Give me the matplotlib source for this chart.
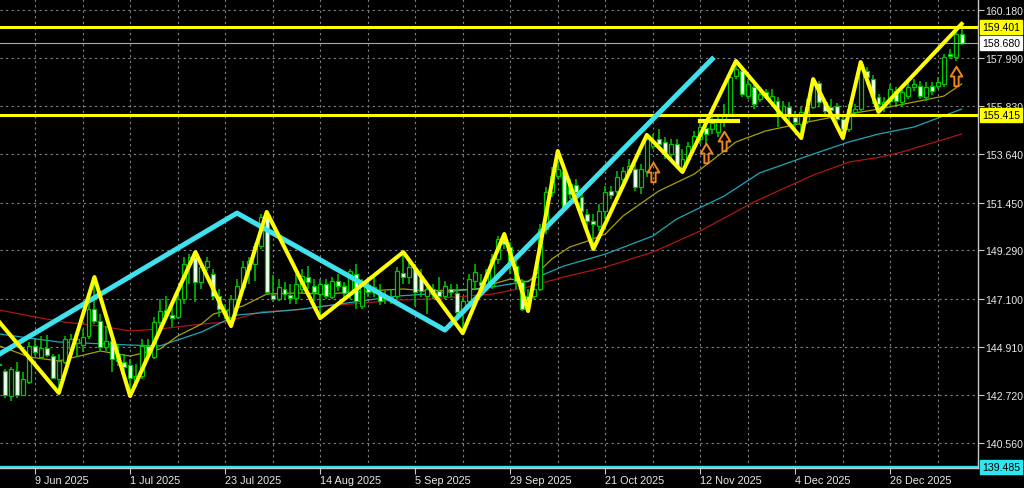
import matplotlib
matplotlib.use('Agg')
import matplotlib.pyplot as plt
import matplotlib.transforms as mtransforms
from matplotlib.path import Path
import numpy as np

## daily candles, bar 0 .. 162
opens = [144.14, 143.82, 142.69, 143.82, 142.74, 143.32, 144.96, 144.46, 144.87, 144.50,
         143.46, 144.23, 144.82, 145.09, 145.00, 145.41, 146.63, 146.09, 144.91, 145.18,
         144.59, 144.23, 144.09, 143.37, 143.60, 144.96, 144.46, 146.04, 146.59, 146.36,
         146.27, 147.08, 148.67, 148.99, 147.86, 148.53, 148.22, 147.22, 146.59, 146.27,
         147.08, 147.63, 148.44, 148.67, 149.49, 150.80, 147.27, 147.08, 147.54, 147.27,
         147.13, 147.54, 148.08, 147.67, 147.31, 147.76, 147.18, 147.90, 147.67, 147.31,
         148.22, 146.77, 147.72, 147.40, 147.36, 147.08, 147.18, 147.22, 148.26, 148.08,
         148.44, 148.13, 147.22, 147.54, 147.45, 147.22, 147.54, 147.36, 146.50, 146.99,
         147.90, 147.86, 147.67, 147.67, 148.90, 149.76, 149.44, 148.58, 147.86, 147.22,
         147.22, 147.54, 150.26, 151.93, 152.66, 152.88, 152.30, 152.25, 151.71, 150.94,
         150.62, 150.39, 151.07, 151.98, 151.98, 152.52, 152.84, 152.98, 152.16, 152.88,
         154.02, 154.33, 154.20, 153.65, 154.11, 153.02, 153.43, 154.02, 154.33, 154.83,
         154.79, 154.65, 155.10, 155.47, 157.19, 157.42, 156.28, 156.69, 156.15, 156.46,
         156.01, 156.06, 155.47, 155.79, 155.33, 155.01, 155.15, 155.79, 156.87, 156.01,
         155.79, 155.83, 155.24, 154.79, 155.56, 155.69, 157.42, 157.05, 156.24, 155.79,
         156.06, 156.51, 156.01, 156.28, 156.69, 156.74, 156.24, 156.74, 156.74, 156.83,
         158.19, 158.05, 159.09]
highs = [144.28, 143.91, 144.00, 144.23, 143.78, 145.14, 145.27, 145.41, 145.45, 144.59,
         144.59, 145.41, 145.50, 145.50, 145.73, 146.86, 148.08, 146.40, 145.86, 145.27,
         145.05, 144.59, 144.37, 144.14, 145.27, 145.27, 146.27, 147.08, 147.22, 146.99,
         147.31, 148.99, 149.12, 149.21, 148.81, 148.99, 148.44, 147.54, 146.86, 147.27,
         147.99, 148.81, 148.99, 149.62, 150.94, 151.03, 148.17, 147.99, 147.86, 147.76,
         148.22, 148.44, 148.58, 147.99, 147.99, 147.99, 148.08, 148.22, 147.86, 148.44,
         148.67, 147.99, 148.08, 148.22, 147.76, 147.45, 147.54, 148.53, 149.21, 148.90,
         148.67, 148.44, 147.86, 147.76, 148.08, 147.90, 147.76, 147.76, 147.18, 148.22,
         148.67, 148.22, 148.44, 149.12, 149.94, 150.03, 149.67, 148.81, 147.99, 147.54,
         147.86, 150.48, 152.16, 153.07, 153.29, 153.20, 152.52, 152.52, 151.93, 151.16,
         150.94, 151.39, 152.21, 152.21, 152.88, 153.07, 153.43, 153.20, 153.20, 154.52,
         154.56, 154.79, 154.43, 154.33, 154.33, 153.88, 154.20, 154.70, 155.24, 155.15,
         155.33, 155.47, 155.92, 157.42, 157.87, 157.60, 157.05, 156.83, 156.69, 156.60,
         156.60, 156.24, 156.06, 156.01, 155.60, 155.79, 156.15, 157.05, 156.96, 156.15,
         156.15, 155.97, 155.33, 155.92, 155.92, 157.82, 157.60, 157.23, 156.37, 156.24,
         156.83, 156.69, 156.69, 156.96, 157.05, 156.96, 156.92, 156.92, 157.14, 158.19,
         158.41, 159.41, 159.55]
lows = [144.00, 142.60, 142.46, 142.60, 142.69, 143.23, 144.50, 144.37, 144.46, 143.46,
        142.83, 144.14, 144.59, 144.46, 144.68, 145.27, 145.95, 144.73, 144.73, 143.78,
        144.05, 143.82, 142.69, 143.10, 143.46, 144.37, 144.37, 145.73, 146.18, 145.82,
        146.18, 146.86, 147.76, 146.95, 147.54, 148.35, 147.08, 146.27, 146.18, 145.86,
        146.63, 147.45, 147.76, 147.90, 149.35, 147.27, 146.95, 146.99, 147.08, 146.86,
        146.86, 147.31, 147.54, 146.99, 146.27, 147.08, 147.08, 147.45, 147.18, 147.08,
        146.63, 146.63, 147.18, 147.18, 146.81, 146.86, 146.86, 147.08, 147.76, 147.76,
        146.77, 147.18, 146.40, 147.08, 147.08, 147.08, 147.18, 146.27, 145.54, 146.86,
        147.54, 147.31, 147.45, 147.54, 148.67, 149.35, 148.22, 147.54, 146.54, 146.54,
        147.08, 147.45, 150.03, 151.71, 152.52, 151.07, 151.62, 151.75, 150.94, 150.03,
        149.35, 150.17, 150.71, 151.62, 151.84, 152.30, 152.70, 151.98, 151.84, 152.61,
        153.88, 153.88, 153.43, 153.43, 152.98, 152.84, 153.29, 153.88, 154.11, 154.11,
        154.56, 154.43, 154.88, 155.33, 157.05, 156.24, 156.15, 155.69, 156.01, 156.15,
        155.79, 154.88, 155.33, 155.15, 154.88, 154.38, 155.01, 155.69, 155.79, 155.33,
        155.47, 155.01, 154.38, 154.65, 155.33, 155.60, 156.83, 155.92, 155.56, 155.56,
        155.88, 155.88, 155.79, 156.15, 156.51, 156.15, 156.06, 156.33, 156.60, 156.69,
        157.96, 157.87, 158.59]
closes = [144.09, 142.74, 143.91, 142.74, 143.46, 144.96, 144.68, 144.87, 144.55, 143.51,
          144.28, 145.27, 145.27, 145.27, 145.36, 146.63, 146.09, 144.91, 145.18, 144.37,
          144.28, 144.00, 143.51, 143.60, 144.96, 144.59, 146.04, 146.54, 146.36, 146.22,
          147.08, 148.67, 148.99, 147.86, 148.53, 148.81, 147.22, 146.63, 146.40, 147.08,
          147.67, 148.53, 148.81, 149.49, 150.80, 147.40, 147.08, 147.63, 147.31, 147.13,
          147.76, 148.13, 147.86, 147.40, 147.76, 147.22, 147.90, 147.67, 147.36, 148.35,
          146.99, 147.76, 147.40, 147.63, 146.99, 147.22, 147.08, 148.35, 148.08, 148.53,
          147.40, 147.45, 147.54, 147.31, 147.22, 147.67, 147.40, 146.50, 146.99, 147.99,
          148.31, 147.72, 148.22, 148.90, 149.80, 149.58, 148.67, 147.90, 146.63, 146.99,
          147.54, 150.26, 151.93, 152.66, 152.98, 151.25, 151.84, 151.93, 151.07, 150.62,
          150.48, 151.07, 151.93, 151.80, 152.61, 152.88, 153.11, 152.16, 152.98, 154.33,
          154.24, 154.11, 153.70, 154.11, 153.11, 153.43, 154.02, 154.47, 154.88, 154.56,
          155.06, 155.24, 155.47, 157.14, 157.51, 156.37, 156.83, 155.92, 156.37, 156.28,
          156.28, 155.47, 155.83, 155.38, 155.10, 155.56, 155.79, 156.87, 156.01, 155.60,
          155.65, 155.24, 154.79, 155.69, 155.69, 157.73, 157.14, 156.28, 155.92, 156.01,
          156.60, 156.06, 156.46, 156.69, 156.83, 156.28, 156.69, 156.51, 156.92, 158.05,
          158.10, 159.09, 158.68]

## moving averages, sampled along the lines
ma_fast_bars = [0, 5, 10, 17, 22, 27, 30, 34, 36, 41, 45, 50, 55, 62, 68, 72, 81, 83, 86, 89,
                93, 96, 99, 102, 105, 111, 117, 124, 129, 136, 143, 148, 154, 159, 162]
ma_fast = [144.96, 144.46, 144.28, 144.73, 144.50, 144.82, 145.41, 145.95, 146.40, 146.77,
           147.31, 147.36, 147.31, 147.45, 147.54, 147.45, 147.54, 147.76, 147.99, 147.86,
           148.90, 149.44, 149.71, 150.03, 150.85, 151.98, 152.75, 154.20, 154.70, 155.10,
           155.47, 155.69, 156.01, 156.28, 156.83]
ma_mid_bars = [0, 10, 22, 27, 34, 40, 51, 67, 72, 83, 89, 95, 102, 110, 114, 122, 128,
               136, 143, 148, 154, 162]
ma_mid = [145.50, 145.14, 145.00, 144.96, 145.59, 146.36, 146.63, 147.22, 147.31, 147.63,
          147.90, 148.58, 149.12, 149.94, 150.71, 151.75, 152.80, 153.56, 154.20, 154.56,
          154.88, 155.69]
ma_slow_bars = [0, 6, 11, 17, 22, 27, 34, 38, 44, 50, 55, 61, 67, 72, 83, 89, 95, 102, 110,
                118, 127, 137, 143, 148, 152, 162]
ma_slow = [146.59, 146.27, 146.04, 145.86, 145.64, 145.73, 145.95, 146.04, 146.50, 146.59,
           146.77, 146.90, 147.04, 147.08, 147.31, 147.63, 148.08, 148.53, 149.21, 150.17,
           151.48, 152.70, 153.29, 153.50, 153.75, 154.56]

## drawn objects
zz_bars = [-1, 10, 16, 22, 33, 39, 45, 54, 68, 78, 85, 89, 94, 100, 109, 115, 124, 135,
           137, 142, 145, 148, 162]
zz_prices = [146.36, 142.83, 148.08, 142.69, 149.21, 145.86, 151.03, 146.22, 149.21, 145.54,
             150.03, 146.54, 153.79, 149.35, 154.52, 152.84, 157.87, 154.38, 157.05, 154.38,
             157.82, 155.56, 159.55]
trend_bars = [-1, 40, 75, 120]
trend_prices = [144.43, 150.98, 145.68, 157.96]
levels_yellow = [159.401, 155.415]
level_cyan = 139.485
bid = 158.680
seg_bars = [118, 124.3]
seg_price = 155.15
arrow_bars = [110, 119, 122, 161]
arrow_prices = [152.86, 153.72, 154.24, 157.21]

price_ticks = [160.180, 157.990, 155.830, 153.640, 151.450, 149.290, 147.100, 144.910,
               142.720, 140.560]
date_bars = [6, 22, 38, 54, 70, 86, 102, 118, 134, 150]
date_labels = ['9 Jun 2025', '1 Jul 2025', '23 Jul 2025', '14 Aug 2025', '5 Sep 2025',
               '29 Sep 2025', '21 Oct 2025', '12 Nov 2025', '4 Dec 2025', '26 Dec 2025']

plt.rcParams['font.family'] = ['Liberation Sans', 'DejaVu Sans']

fig = plt.figure(figsize=(10.24, 4.89), dpi=100, facecolor='black')
ax = fig.add_axes([0, 20 / 489, 978 / 1024, 469 / 489], facecolor='black')
ax.set_xlim(0.1, 164.75)
ax.set_ylim(139.43, 160.678)

# grid
grid_kw = dict(color='#7d848c', lw=0.8, dashes=(2, 3), zorder=0)
for p in price_ticks:
    ax.axhline(p, **grid_kw)
for b in range(6, 163, 8):
    ax.axvline(b, **grid_kw)

# moving averages
ax.plot(ma_slow_bars, ma_slow, color='#b01515', lw=0.9, zorder=1)
ax.plot(ma_mid_bars, ma_mid, color='#1ca8b8', lw=0.9, zorder=1)
ax.plot(ma_fast_bars, ma_fast, color='#a8a200', lw=0.9, zorder=1)

# candles
o = np.array(opens)
h = np.array(highs)
l = np.array(lows)
c = np.array(closes)
x = np.arange(len(o))
green = '#00c800'
ax.vlines(x, l, h, color=green, lw=1.1, zorder=2)
bull = c >= o
body = np.maximum(np.abs(c - o), 0.03)
ax.bar(x, body, bottom=np.minimum(o, c), width=0.66,
       color=np.where(bull, 'black', 'white'), edgecolor=green, lw=0.9, zorder=3)

# horizontal levels
for lv in levels_yellow:
    ax.axhline(lv, color='#ffff00', lw=2.2, zorder=4)
ax.axhline(bid, color='#a8a8a8', lw=0.8, zorder=4)
ax.axhline(level_cyan, color='#2ee6f0', lw=2.4, zorder=4)
ax.plot(seg_bars, [seg_price, seg_price], color='#ffff00', lw=3, zorder=5)

# zigzag and trend lines
ax.plot(trend_bars, trend_prices, color='#3ee2ee', lw=3.6, zorder=5)
ax.plot(zz_bars, zz_prices, color='#ffff00', lw=2.9, zorder=6)

# signal arrows
arrow = Path([(-0.22, -1), (0.22, -1), (0.22, 0), (0.6, 0), (0, 1), (-0.6, 0),
              (-0.22, 0), (-0.22, -1)],
             [Path.MOVETO] + [Path.LINETO] * 6 + [Path.CLOSEPOLY])
ax.plot(arrow_bars, arrow_prices, ls='none', marker=arrow, ms=14, mfc='none',
        mec='#f0861e', mew=1.4, zorder=7)

# axes frame
for side in ['left', 'top']:
    ax.spines[side].set_visible(False)
for side in ['right', 'bottom']:
    ax.spines[side].set_color('#c8c8c8')
    ax.spines[side].set_linewidth(1)

ax.yaxis.tick_right()
ax.set_yticks(price_ticks, ['%.3f' % p for p in price_ticks])
ax.set_xticks(date_bars, date_labels)
for lbl in ax.get_xticklabels():
    lbl.set_ha('left')
ax.tick_params(axis='y', length=4, color='#c8c8c8', labelcolor='#e8e8e8', labelsize=7.6, pad=1.5)
ax.tick_params(axis='x', length=4, color='#c8c8c8', labelcolor='#e8e8e8', labelsize=7.8, pad=1)

# price tags on the right scale
blend = mtransforms.blended_transform_factory(ax.transAxes, ax.transData)
tags = [(levels_yellow[0], '#ffff00'), (levels_yellow[1], '#ffff00'),
        (bid, 'white'), (level_cyan, '#2ee6f0')]
for val, col in tags:
    ax.annotate('%.3f' % val, xy=(1.0, val), xycoords=blend, xytext=(3, 0),
                textcoords='offset points', ha='left', va='center', fontsize=7.6,
                color='black', zorder=10, annotation_clip=False,
                bbox=dict(boxstyle='square,pad=0.2', fc=col, ec=col))

fig.savefig('out.png', dpi=100, facecolor='black')
